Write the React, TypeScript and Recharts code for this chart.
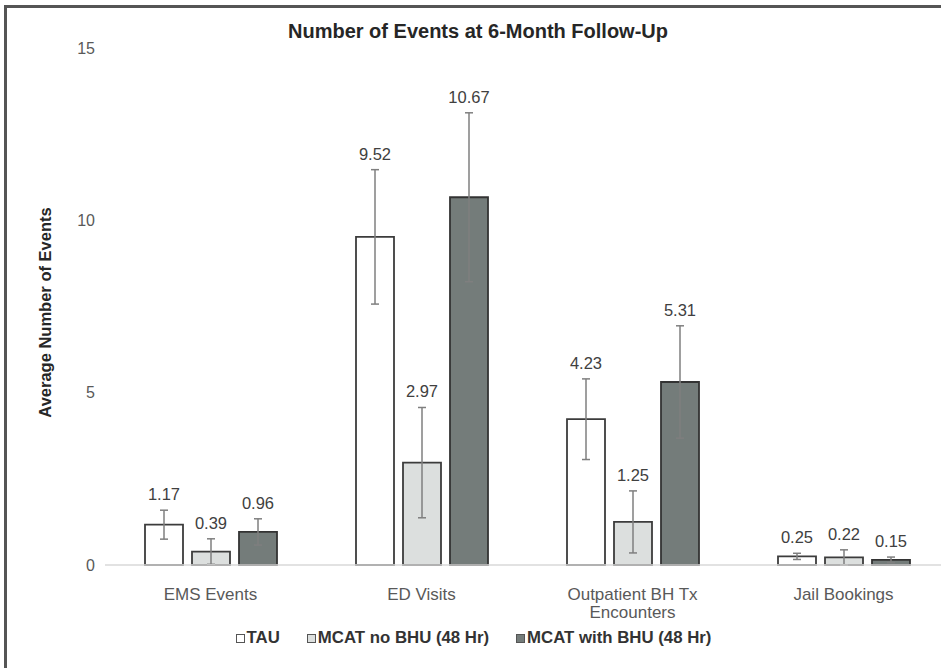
import React from "react";
import {
  BarChart,
  Bar,
  XAxis,
  YAxis,
  ErrorBar,
  LabelList,
  Legend,
} from "recharts";

// Outcome categories
const categories = [
  "EMS Events",
  "ED Visits",
  "Outpatient BH Tx Encounters",
  "Jail Bookings",
];

// Mean number of events per group
const tauValues = [1.17, 9.52, 4.23, 0.25];
const mcatNoBhuValues = [0.39, 2.97, 1.25, 0.22];
const mcatWithBhuValues = [0.96, 10.67, 5.31, 0.15];

// Error bar half-lengths per group
const tauErrors = [0.42, 1.95, 1.17, 0.09];
const mcatNoBhuErrors = [0.37, 1.6, 0.9, 0.22];
const mcatWithBhuErrors = [0.38, 2.45, 1.63, 0.08];

const yTicks = [0, 5, 10, 15];

const seriesNames = ["TAU", "MCAT no BHU (48 Hr)", "MCAT with BHU (48 Hr)"];

const data = categories.map((name, i) => ({
  name,
  tau: tauValues[i],
  tauErr: tauErrors[i],
  noBhu: mcatNoBhuValues[i],
  noBhuErr: mcatNoBhuErrors[i],
  withBhu: mcatWithBhuValues[i],
  withBhuErr: mcatWithBhuErrors[i],
}));

const FONT = '"Liberation Sans", Arial, Helvetica, sans-serif';

const series = [
  { key: "tau", err: "tauErr", name: seriesNames[0], fill: "#ffffff", stroke: "#3c3c3c", values: tauValues, errors: tauErrors },
  { key: "noBhu", err: "noBhuErr", name: seriesNames[1], fill: "#dcdfde", stroke: "#3c3c3c", values: mcatNoBhuValues, errors: mcatNoBhuErrors },
  { key: "withBhu", err: "withBhuErr", name: seriesNames[2], fill: "#747c7a", stroke: "#333333", values: mcatWithBhuValues, errors: mcatWithBhuErrors },
];

// Value label placed above the top of the error bar
const makeValueLabel = (values: number[], errors: number[]) => (props: any) => {
  const { x, y, width, height, value } = props;
  const v = Number(value);
  const idx = values.indexOf(v);
  const err = idx >= 0 ? errors[idx] : 0;
  const pxPerUnit = v > 0 ? Math.abs(height) / v : 0;
  const top = Math.min(y, y + height) - err * pxPerUnit;
  return (
    <text
      x={x + width / 2}
      y={top - 10}
      textAnchor="middle"
      fill="#404040"
      fontSize={16.5}
      fontFamily={FONT}
    >
      {v.toFixed(2)}
    </text>
  );
};

const wrapLabel = (s: string, max: number) => {
  if (s.length <= max) return [s];
  const cut = s.lastIndexOf(" ", max);
  return [s.slice(0, cut), s.slice(cut + 1)];
};

const CategoryTick = (props: any) => {
  const { x, y, payload } = props;
  const lines = wrapLabel(String(payload.value), 16);
  return (
    <text
      x={x}
      y={y + 27}
      textAnchor="middle"
      fill="#595959"
      fontSize={17}
      fontFamily={FONT}
    >
      {lines.map((l, i) => (
        <tspan key={i} x={x} dy={i === 0 ? 0 : 18}>
          {l}
        </tspan>
      ))}
    </text>
  );
};

const LegendContent = () => (
  <div
    style={{
      display: "flex",
      justifyContent: "center",
      alignItems: "center",
      gap: 27,
      fontFamily: FONT,
      fontWeight: 700,
      fontSize: 16.8,
      color: "#333333",
      whiteSpace: "nowrap",
    }}
  >
    {series.map((s) => (
      <span key={s.key} style={{ display: "flex", alignItems: "center" }}>
        <span
          style={{
            display: "inline-block",
            width: 7,
            height: 7,
            background: s.fill,
            border: "1.5px solid #555555",
            marginRight: 2,
          }}
        />
        {s.name}
      </span>
    ))}
  </div>
);

export default function App() {
  return (
    <div
      style={{
        position: "absolute",
        left: 0,
        top: 0,
        width: 941,
        height: 668,
        overflow: "hidden",
        background: "#ffffff",
      }}
    >
      <div
        style={{
          position: "absolute",
          left: 4,
          top: 5,
          width: 1000,
          height: 700,
          border: "3px solid #555555",
          boxSizing: "border-box",
        }}
      />
      <div
        style={{
          position: "absolute",
          left: 0,
          top: 20,
          width: 956,
          textAlign: "center",
          fontFamily: FONT,
          fontWeight: 700,
          fontSize: 20,
          color: "#262626",
          whiteSpace: "nowrap",
        }}
      >
        Number of Events at 6-Month Follow-Up
      </div>
      <div style={{ position: "absolute", left: 0, top: 0 }}>
        <BarChart
          width={960}
          height={668}
          data={data}
          margin={{ top: 48, right: 11, left: 0, bottom: 53 }}
          barSize={38}
          barGap={9}
        >
          <XAxis
            dataKey="name"
            axisLine={{ stroke: "#d9d9d9", strokeWidth: 1.5 }}
            tickLine={false}
            tick={<CategoryTick />}
            height={50}
            interval={0}
          />
          <YAxis
            width={105}
            domain={[0, 15]}
            ticks={yTicks}
            axisLine={false}
            tickLine={false}
            tickSize={0}
            tickMargin={10}
            tick={{ fill: "#595959", fontSize: 16, fontFamily: FONT }}
            label={{
              content: (p: any) => {
                const vb = p.viewBox || { y: 48, height: 517 };
                const cy = vb.y + vb.height / 2 + 6;
                return (
                  <text
                    x={51}
                    y={cy}
                    transform={`rotate(-90, 51, ${cy})`}
                    textAnchor="middle"
                    fill="#262626"
                    fontWeight={700}
                    fontSize={16.5}
                    fontFamily={FONT}
                  >
                    Average Number of Events
                  </text>
                );
              },
            }}
          />
          <Legend
            content={<LegendContent />}
            wrapperStyle={{ position: "absolute", left: 0, top: 628, width: 947, height: 0, overflow: "visible" }}
          />
          {series.map((s) => (
            <Bar
              key={s.key}
              dataKey={s.key}
              name={s.name}
              fill={s.fill}
              stroke={s.stroke}
              strokeWidth={1.8}
              isAnimationActive={false}
            >
              <ErrorBar dataKey={s.err} width={4} stroke="#7f7f7f" strokeWidth={1.5} />
              <LabelList dataKey={s.key} content={makeValueLabel(s.values, s.errors)} />
            </Bar>
          ))}
        </BarChart>
      </div>
    </div>
  );
}
